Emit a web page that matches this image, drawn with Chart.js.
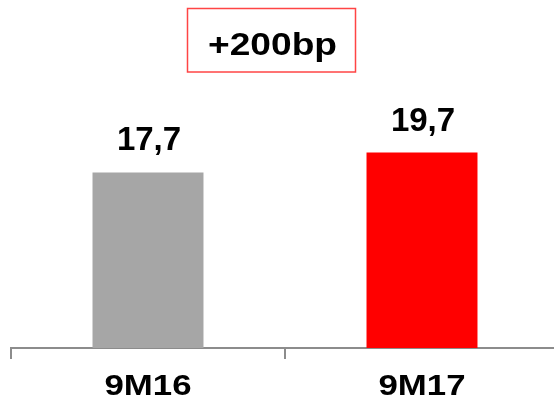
<!DOCTYPE html>
<html>
<head>
<meta charset="utf-8">
<script src="https://cdn.jsdelivr.net/npm/chart.js@4/dist/chart.umd.min.js"></script>
<style>
  html, body { margin: 0; padding: 0; background: #ffffff; overflow: hidden; }
  #wrap { width: 570px; height: 407px; }
</style>
</head>
<body>
<div id="wrap"><canvas id="c" width="570" height="407"></canvas></div>
<script>
// Periods and their values
const categories = ['9M16', '9M17'];
const values = [17.7, 19.7];
const barColors = ['#A6A6A6', '#FF0000'];
const valueLabels = ['17,7', '19,7'];
const deltaLabel = '+200bp';

const FONT = '"Liberation Sans", Arial, sans-serif';
const AXIS_GREY = '#8C8C8C';
const WIDE = 1.16; // horizontal stretch of the bold lettering

// Draw the x-axis labels horizontally stretched around their anchor point
function stretchLabels(scale) {
  if (scale._stretched) return;
  scale._stretched = true;
  const orig = scale.drawLabels.bind(scale);
  scale.drawLabels = function (area) {
    const ctx = this.ctx;
    const fill = ctx.fillText;
    ctx.fillText = function (text, x, y, maxWidth) {
      this.save();
      this.translate(x, y);
      this.scale(WIDE, 1);
      fill.call(this, text, 0, 0);
      this.restore();
    };
    try { orig(area); } finally { ctx.fillText = fill; }
  };
}

// Value above each bar
const valueLabelPlugin = {
  id: 'valueLabels',
  afterDatasetsDraw(chart) {
    const ctx = chart.ctx;
    const meta = chart.getDatasetMeta(0);
    ctx.save();
    ctx.font = 'bold 33px ' + FONT;
    ctx.fillStyle = '#000000';
    ctx.textAlign = 'center';
    ctx.textBaseline = 'alphabetic';
    meta.data.forEach((bar, i) => {
      ctx.fillText(valueLabels[i], bar.x + 1, bar.y - 22);
    });
    ctx.restore();
  }
};

// Boxed change label between the bars
const deltaBoxPlugin = {
  id: 'deltaBox',
  afterDraw(chart) {
    const ctx = chart.ctx;
    const xs = chart.scales.x;
    const cx = (xs.getPixelForValue(0) + xs.getPixelForValue(1)) / 2 - 13.5;
    ctx.save();
    ctx.strokeStyle = '#FF4444';
    ctx.lineWidth = 1.5;
    ctx.strokeRect(cx - 84, 8.5, 168, 63.5);
    ctx.translate(cx + 1, 55);
    ctx.scale(WIDE, 1);
    ctx.font = 'bold 32px ' + FONT;
    ctx.fillStyle = '#000000';
    ctx.textAlign = 'center';
    ctx.textBaseline = 'alphabetic';
    ctx.fillText(deltaLabel, 0, 0);
    ctx.restore();
  }
};

new Chart(document.getElementById('c'), {
  type: 'bar',
  data: {
    labels: categories,
    datasets: [{
      data: values,
      backgroundColor: barColors,
      borderWidth: 0,
      barPercentage: 0.405,
      categoryPercentage: 1.0
    }]
  },
  options: {
    responsive: false,
    animation: false,
    devicePixelRatio: 1,
    layout: { padding: { left: 11, right: 11, top: 50.4, bottom: 0 } },
    plugins: {
      legend: { display: false },
      tooltip: { enabled: false },
      title: { display: false }
    },
    scales: {
      x: {
        offset: true,
        grid: {
          display: true,
          offset: true,
          drawOnChartArea: false,
          drawTicks: true,
          tickLength: 11,
          color: AXIS_GREY,
          lineWidth: 2
        },
        border: { display: true, color: AXIS_GREY, width: 2 },
        ticks: {
          color: '#000000',
          padding: 10,
          font: { family: FONT, size: 30, weight: 'bold', lineHeight: 1.2 }
        },
        afterFit(scale) {
          scale.height = 59;
          stretchLabels(scale);
        }
      },
      y: {
        display: false,
        min: 0,
        max: 30
      }
    }
  },
  plugins: [valueLabelPlugin, deltaBoxPlugin]
});
</script>
</body>
</html>
